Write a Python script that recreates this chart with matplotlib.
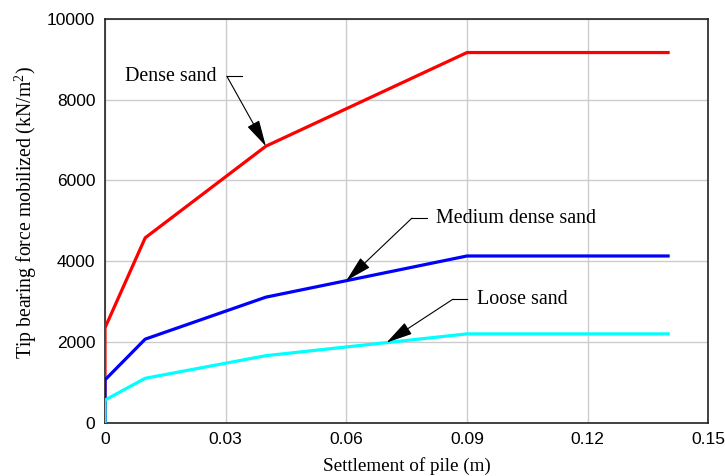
import numpy as np
import matplotlib.pyplot as plt

plt.rcParams['font.family'] = 'Liberation Serif'
plt.rcParams['mathtext.fontset'] = 'custom'
plt.rcParams['mathtext.rm'] = 'Liberation Serif'
plt.rcParams['mathtext.it'] = 'Liberation Serif:italic'

# settlement (m) and mobilized tip bearing (kN/m2)
settlement = [0.0, 0.0, 0.01, 0.04, 0.09, 0.14]
dense = [0, 2350, 4580, 6850, 9170, 9170]
medium = [0, 1060, 2070, 3110, 4130, 4130]
loose = [0, 560, 1100, 1660, 2200, 2200]

xticks = [0, 0.03, 0.06, 0.09, 0.12, 0.15]
xticklabels = ['0', '0.03', '0.06', '0.09', '0.12', '0.15']
yticks = [0, 2000, 4000, 6000, 8000, 10000]

fig = plt.figure(figsize=(7.25, 4.76), dpi=100)
ax = fig.add_axes([0.1448, 0.112, 0.977 - 0.1448, 0.960 - 0.112])

ax.plot(settlement, dense, color='#ff0000', lw=2.3, zorder=3)
ax.plot(settlement, medium, color='#0000ff', lw=2.3, zorder=3)
ax.plot(settlement, loose, color='#00ffff', lw=2.3, zorder=3)

ax.set_xlim(0, 0.15)
ax.set_ylim(0, 10000)
ax.set_xticks(xticks)
ax.set_xticklabels(xticklabels)
ax.set_yticks(yticks)
ax.tick_params(length=0, labelsize=12.5, pad=7)
for lab in ax.get_xticklabels() + ax.get_yticklabels():
    lab.set_fontfamily('Liberation Sans')
ax.grid(True, color='#cccccc', lw=1)
ax.set_axisbelow(True)
for s in ax.spines.values():
    s.set_color('#222222')
    s.set_linewidth(1.2)

ax.set_xlabel('Settlement of pile (m)', fontsize=13.8, labelpad=7)
ax.set_ylabel('Tip bearing force mobilized (kN/m$^2$)', fontsize=14.2)
ax.yaxis.set_label_coords(-0.11, 0.52)

# labels with elbow leader lines
notes = [
    ('Dense sand', 0.00497, 8583, 0.0303, 0.0340, (0.04, 6850)),
    ('Medium dense sand', 0.0823, 5067, 0.0763, 0.0800, (0.06, 3520)),
    ('Loose sand', 0.0924, 3059, 0.0865, 0.0900, (0.07, 1984)),
]
for txt, tx, ty, x0, x1, tip in notes:
    ax.text(tx, ty, txt, fontsize=14.4, ha='left', va='center')
    ax.plot([x0, x1], [ty, ty], color='black', lw=0.8, zorder=4)
    ax.annotate('', xy=tip, xytext=(x0, ty),
                arrowprops=dict(arrowstyle='-|>,head_length=1.1,head_width=0.28',
                                color='black', lw=0.8, mutation_scale=15,
                                shrinkA=0, shrinkB=0),
                zorder=5)

fig.savefig('out.png', dpi=100)
